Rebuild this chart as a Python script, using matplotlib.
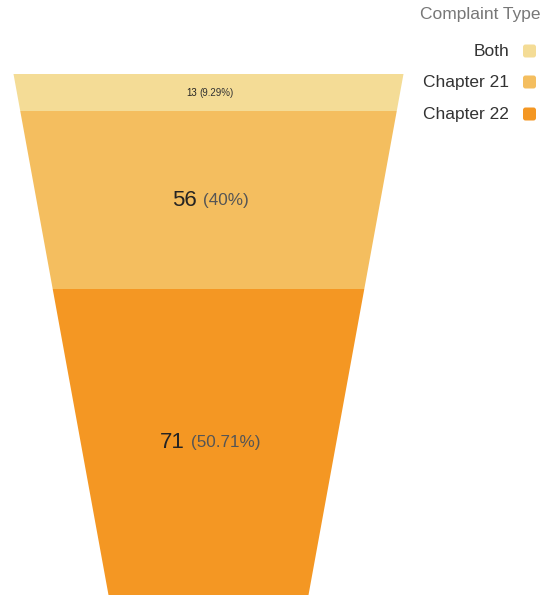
import matplotlib
matplotlib.use("Agg")
import matplotlib.pyplot as plt
from matplotlib.patches import Polygon, FancyBboxPatch

# ---- data ----
categories = ["Both", "Chapter 21", "Chapter 22"]
values = [13, 56, 71]
percent_labels = ["9.29%", "40%", "50.71%"]
legend_title = "Complaint Type"

# ---- layout / style ----
colors = ["#F4DC96", "#F4BE5F", "#F49723"]
band_heights = [37, 178, 306]          # rendered heights of the bands (px)
funnel_top, cx = 74, 208.5
top_half, bottom_half = 195, 100
W, H = 549, 597
plt.rcParams["font.family"] = ["Liberation Sans", "DejaVu Sans"]

fig = plt.figure(figsize=(W / 100, H / 100), dpi=100)
ax = fig.add_axes([0, 0, 1, 1])
ax.set_xlim(0, W)
ax.set_ylim(H, 0)
ax.axis("off")

total_h = sum(band_heights)
def half_width(y):
    t = (y - funnel_top) / total_h
    return top_half + (bottom_half - top_half) * t

y0 = funnel_top
renderer = fig.canvas.get_renderer()
num_sizes = [7, 16, 16]
pct_sizes = [7, 12.3, 12.3]
gaps = [3, 6, 6]
for cat, v, pl, c, h, ns, ps, gap in zip(categories, values, percent_labels, colors,
                                         band_heights, num_sizes, pct_sizes, gaps):
    y1 = y0 + h
    w0, w1 = half_width(y0), half_width(y1)
    poly = Polygon([(cx - w0, y0), (cx + w0, y0), (cx + w1, y1), (cx - w1, y1)],
                   closed=True, facecolor=c, edgecolor="none")
    ax.add_patch(poly)
    ym = (y0 + y1) / 2
    t1 = ax.text(0, ym, f"{v}", fontsize=ns, color="#252423", ha="left", va="center")
    t2 = ax.text(0, ym, f"({pl})", fontsize=ps,
                 color="#555555" if ns > 8 else "#333333", ha="left", va="center")
    b1 = t1.get_window_extent(renderer)
    b2 = t2.get_window_extent(renderer)
    tw = b1.width + gap + b2.width
    x_start = cx + 1.5 - tw / 2
    t1.set_x(x_start)
    t2.set_x(x_start + b1.width + gap)
    y0 = y1

# ---- legend ----
ax.text(541, 15, legend_title, fontsize=12.5, color="#777777", ha="right", va="center")
leg_y = [51, 82, 114]
for cat, c, yy in zip(categories, colors, leg_y):
    ax.text(509, yy, cat, fontsize=12.5, color="#333333", ha="right", va="center")
    sq = FancyBboxPatch((523, yy - 6.5), 13, 13, boxstyle="round,pad=0,rounding_size=2.5",
                        facecolor=c, edgecolor="none")
    ax.add_patch(sq)

fig.savefig("out.png", dpi=100)
